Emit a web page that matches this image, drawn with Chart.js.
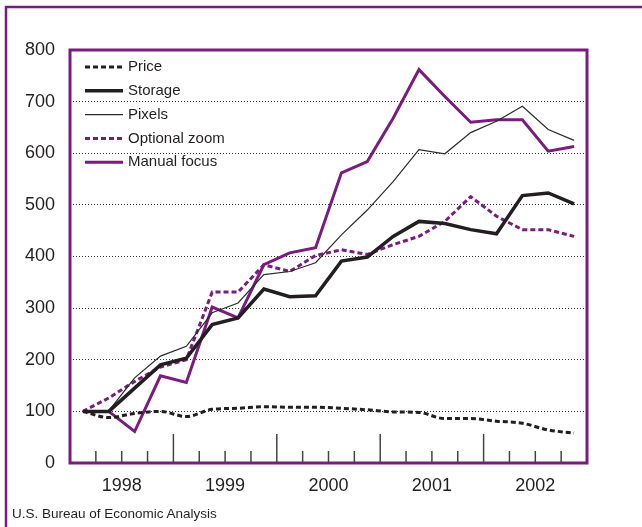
<!DOCTYPE html>
<html>
<head>
<meta charset="utf-8">
<script src="https://cdn.jsdelivr.net/npm/chart.js@4.4.0/dist/chart.umd.min.js"></script>
<style>
  html, body { margin: 0; padding: 0; background: #fff; }
  #wrap { position: relative; width: 642px; height: 527px; }
  #source {
    position: absolute; left: 12px; top: 506px;
    font: 13.5px "Liberation Sans", Arial, sans-serif; color: #231f20;
  }
</style>
</head>
<body>
<div id="wrap">
  <canvas id="camChart" width="642" height="527"></canvas>
  <div id="source">U.S. Bureau of Economic Analysis</div>
</div>
<script>
const quarters = [
  "1998 Q1", "1998 Q2", "1998 Q3", "1998 Q4",
  "1999 Q1", "1999 Q2", "1999 Q3", "1999 Q4",
  "2000 Q1", "2000 Q2", "2000 Q3", "2000 Q4",
  "2001 Q1", "2001 Q2", "2001 Q3", "2001 Q4",
  "2002 Q1", "2002 Q2", "2002 Q3", "2002 Q4"
];
const yTicks = [0, 100, 200, 300, 400, 500, 600, 700, 800];

const price        = [100, 88, 96, 100, 90, 104, 106, 109, 108, 108, 106, 103, 99, 98, 86, 86, 81, 77, 64, 58];
const storage      = [100, 100, 145, 190, 203, 268, 281, 337, 322, 324, 391, 399, 439, 468, 464, 452, 444, 518, 523, 502];
const pixels       = [100, 101, 165, 207, 226, 291, 310, 365, 371, 388, 442, 490, 545, 607, 599, 640, 662, 691, 646, 625];
const optionalZoom = [100, 126, 158, 186, 200, 331, 331, 384, 371, 402, 413, 404, 423, 439, 468, 516, 478, 452, 452, 439];
const manualFocus  = [100, 100, 61, 169, 156, 302, 281, 384, 407, 417, 562, 584, 668, 762, 710, 660, 665, 665, 604, 613];

const purple = "#7a1b7e";
const ink = "#231f20";
const fontFamily = '"Liberation Sans", Arial, sans-serif';

// frame, box, quarter ticks and legend drawn by hand
const decorPlugin = {
  id: "decor",
  beforeDraw(chart) {
    const c = chart.ctx;
    c.save();
    c.strokeStyle = purple;
    c.lineWidth = 2.5;
    c.beginPath();
    c.moveTo(6, 527);
    c.lineTo(6, 7);
    c.lineTo(642, 7);
    c.stroke();
    c.restore();
  },
  afterDatasetsDraw(chart) {
    const c = chart.ctx;
    const area = chart.chartArea;
    const x = chart.scales.x;

    // quarter tick marks standing up from the bottom
    c.save();
    c.strokeStyle = "#444";
    c.lineWidth = 1.5;
    for (let i = 1; i < quarters.length; i++) {
      const px = (x.getPixelForValue(i - 1) + x.getPixelForValue(i)) / 2;
      const h = i % 4 === 0 ? 29 : 12;
      c.beginPath();
      c.moveTo(px, area.bottom);
      c.lineTo(px, area.bottom - h);
      c.stroke();
    }
    c.restore();

    // legend
    c.save();
    c.font = "15px " + fontFamily;
    c.textBaseline = "middle";
    chart.data.datasets.forEach(function(ds, i) {
      const y = 67 + i * 23.8;
      c.strokeStyle = ds.borderColor;
      c.lineWidth = ds.borderWidth;
      c.setLineDash(ds.borderDash || []);
      c.beginPath();
      c.moveTo(85, y);
      c.lineTo(123, y);
      c.stroke();
      c.setLineDash([]);
      c.fillStyle = ink;
      c.fillText(ds.label, 128, y);
    });
    c.restore();
  },
  afterDraw(chart) {
    const c = chart.ctx;
    const area = chart.chartArea;
    c.save();
    c.strokeStyle = purple;
    c.lineWidth = 3;
    c.strokeRect(area.left, area.top, area.right - area.left, area.bottom - area.top);
    c.restore();
  }
};

new Chart(document.getElementById("camChart").getContext("2d"), {
  type: "line",
  data: {
    labels: quarters,
    datasets: [
      {
        label: "Price",
        data: price,
        borderColor: ink,
        borderWidth: 3,
        borderDash: [5, 3],
        cubicInterpolationMode: "monotone",
      },
      {
        label: "Storage",
        data: storage,
        borderColor: ink,
        borderWidth: 3.5,
      },
      {
        label: "Pixels",
        data: pixels,
        borderColor: "#2b2b2b",
        borderWidth: 1.2,
      },
      {
        label: "Optional zoom",
        data: optionalZoom,
        borderColor: purple,
        borderWidth: 3,
        borderDash: [5, 3],
      },
      {
        label: "Manual focus",
        data: manualFocus,
        borderColor: purple,
        borderWidth: 3,
      },
    ],
  },
  options: {
    responsive: false,
    animation: false,
    layout: { padding: { left: 0, right: 55, top: 50, bottom: 0 } },
    elements: { point: { radius: 0 }, line: { tension: 0, fill: false } },
    plugins: { legend: { display: false }, tooltip: { enabled: false } },
    scales: {
      x: {
        offset: true,
        afterFit: function(scale) { scale.height = 64; },
        grid: { display: false, drawTicks: false },
        border: { display: false },
        ticks: {
          autoSkip: false,
          maxRotation: 0,
          padding: 12,
          labelOffset: 12.9,
          color: ink,
          font: { family: fontFamily, size: 18 },
          callback: function(value) {
            const q = quarters[value];
            return q.endsWith("Q2") ? q.slice(0, 4) : "";
          },
        },
      },
      y: {
        min: 0,
        max: 800,
        afterFit: function(scale) { scale.width = 70; },
        afterBuildTicks: function(scale) {
          scale.ticks = yTicks.map(function(v) { return { value: v }; });
        },
        border: { display: false, dash: [1, 2] },
        grid: {
          drawTicks: false,
          lineWidth: 1,
          color: function(ctx) {
            const v = ctx.tick ? ctx.tick.value : 0;
            return v === 0 || v === 800 ? "rgba(0,0,0,0)" : "#333";
          },
        },
        ticks: {
          padding: 15,
          color: ink,
          font: { family: fontFamily, size: 18 },
        },
      },
    },
  },
  plugins: [decorPlugin],
});
</script>
</body>
</html>
